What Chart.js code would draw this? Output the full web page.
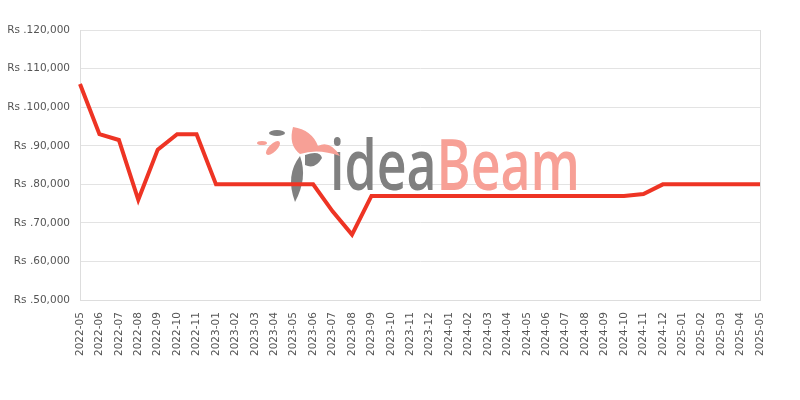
<!DOCTYPE html>
<html>
<head>
<meta charset="utf-8">
<script src="https://cdn.jsdelivr.net/npm/chart.js@4/dist/chart.umd.min.js"></script>
<style>
html,body{margin:0;padding:0;background:#fff;}
#wrap{width:800px;height:400px;position:relative;}
</style>
</head>
<body>
<div id="wrap"><canvas id="c" width="800" height="400"></canvas></div>
<script>
const categories = ["2022-05","2022-06","2022-07","2022-08","2022-09","2022-10","2022-11",
"2023-01","2023-02","2023-03","2023-04","2023-05","2023-06","2023-07","2023-08","2023-09","2023-10","2023-11","2023-12",
"2024-01","2024-02","2024-03","2024-04","2024-05","2024-06","2024-07","2024-08","2024-09","2024-10","2024-11","2024-12",
"2025-01","2025-02","2025-03","2025-04","2025-05"];
const prices = [106000,93000,91500,76000,89000,93000,93000,
80000,80000,80000,80000,80000,80000,73000,67000,77000,77000,77000,77000,
77000,77000,77000,77000,77000,77000,77000,77000,77000,77000,77500,80000,
80000,80000,80000,80000,80000];
const yMin = 50000, yMax = 120000, yStep = 10000;

const watermark = {
  id: 'watermark',
  beforeDatasetsDraw(chart) {
    const ctx = chart.ctx;
    ctx.save();
    ctx.font = '600 70px "Open Sans", sans-serif';
    ctx.textBaseline = 'alphabetic';
    const w1 = ctx.measureText('idea').width;
    const w2 = ctx.measureText('Beam').width;
    const sx = 250 / (w1 + w2);
    ctx.translate(330, 190);
    ctx.scale(sx, 1);
    ctx.fillStyle = '#808080';
    ctx.fillText('idea', 0, 0);
    ctx.fillStyle = '#f7a096';
    ctx.fillText('Beam', w1, 0);
    ctx.restore();
    ctx.save();
    ctx.fillStyle = '#f7a096';
    ctx.beginPath();
    ctx.moveTo(293,127); ctx.quadraticCurveTo(312,130,318,146);
    ctx.quadraticCurveTo(330,140,340,156); ctx.quadraticCurveTo(318,148,300,154);
    ctx.quadraticCurveTo(288,145,293,127); ctx.fill();
    ctx.beginPath(); ctx.ellipse(273,148,4,9,0.8,0,Math.PI*2); ctx.fill();
    ctx.beginPath(); ctx.ellipse(262,143,5,2,0,0,Math.PI*2); ctx.fill();
    ctx.fillStyle = '#808080';
    ctx.beginPath(); ctx.ellipse(277,133,8,3,0,0,Math.PI*2); ctx.fill();
    ctx.beginPath();
    ctx.moveTo(300,156); ctx.quadraticCurveTo(285,175,295,202);
    ctx.quadraticCurveTo(308,178,300,156); ctx.fill();
    ctx.beginPath();
    ctx.moveTo(305,155); ctx.quadraticCurveTo(320,150,322,158);
    ctx.quadraticCurveTo(315,170,305,165); ctx.fill();
    ctx.restore();
  }
};

new Chart(document.getElementById('c'), {
  type: 'line',
  data: {
    labels: categories,
    datasets: [{
      data: prices,
      borderColor: '#ee3424',
      backgroundColor: '#ee3424',
      borderWidth: 4,
      pointRadius: 0,
      pointHoverRadius: 0,
      tension: 0,
      fill: false
    }]
  },
  options: {
    responsive: false,
    animation: false,
    layout: { padding: { top: 30, right: 40, bottom: 32, left: 0 } },
    plugins: { legend: { display: false }, tooltip: { enabled: false } },
    scales: {
      x: {
        offset: false,
        grid: {
          drawTicks: false,
          color: (c) => c.index === categories.length - 1 ? '#dddddd' : 'rgba(0,0,0,0)'
        },
        border: { display: true, color: '#dddddd' },
        ticks: {
          autoSkip: false,
          maxRotation: 90,
          minRotation: 90,
          padding: 12,
          color: '#555555',
          font: { family: 'DejaVu Sans', size: 10.5 }
        }
      },
      y: {
        min: yMin,
        max: yMax,
        afterFit: (s) => { s.width = 80; },
        grid: { drawTicks: false, color: '#e3e3e3' },
        border: { display: true, color: '#dddddd' },
        ticks: {
          stepSize: yStep,
          padding: 10,
          color: '#555555',
          font: { family: 'DejaVu Sans', size: 10.5 },
          callback: (v) => 'Rs .' + Number(v).toLocaleString('en-US')
        }
      }
    }
  },
  plugins: [watermark]
});
</script>
</body>
</html>
